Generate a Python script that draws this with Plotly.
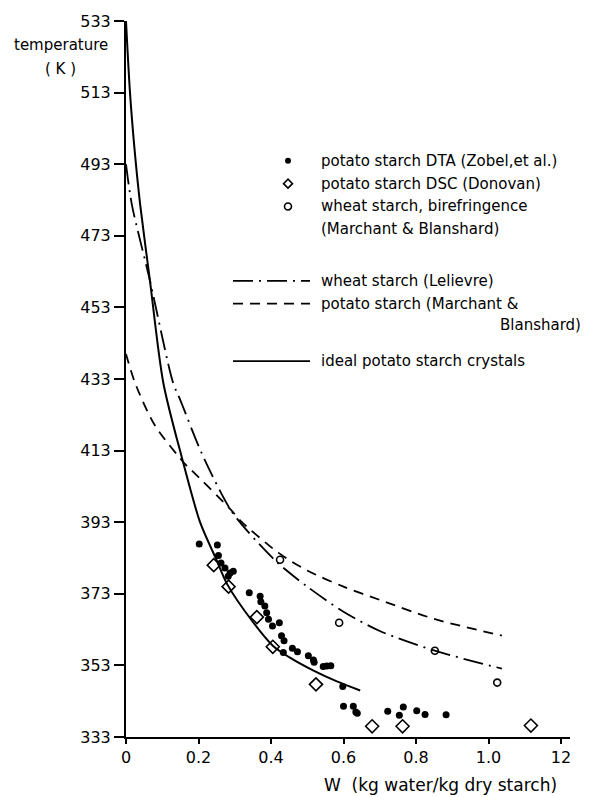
import plotly.graph_objects as go

# ---- measured data -------------------------------------------------------
# potato starch, DTA (Zobel et al.)
dta_w = [0.202, 0.252, 0.255, 0.262, 0.273, 0.282, 0.287, 0.296, 0.340, 0.370,
         0.372, 0.383, 0.388, 0.393, 0.404, 0.423, 0.429, 0.436, 0.434, 0.459,
         0.473, 0.503, 0.517, 0.519, 0.544, 0.554, 0.565, 0.598, 0.600, 0.627,
         0.634, 0.638, 0.722, 0.754, 0.765, 0.802, 0.825, 0.883]
dta_T = [386.9, 386.6, 383.7, 381.6, 380.2, 377.9, 378.8, 379.3, 373.3, 372.3,
         370.8, 369.6, 367.7, 365.9, 364.0, 364.9, 361.3, 359.9, 356.6, 357.8,
         356.8, 355.7, 354.5, 353.9, 352.7, 352.8, 352.9, 347.1, 341.6, 341.6,
         340.0, 339.6, 340.2, 339.1, 341.4, 340.3, 339.3, 339.2]

# potato starch, DSC (Donovan)
dsc_w = [0.242, 0.283, 0.361, 0.405, 0.524, 0.679, 0.763, 1.117]
dsc_T = [381.0, 375.0, 366.5, 358.2, 347.7, 336.0, 336.0, 336.2]

# wheat starch, birefringence (Marchant & Blanshard)
bir_w = [0.425, 0.588, 0.852, 1.024]
bir_T = [382.5, 364.9, 357.1, 348.2]

# ---- fitted curves --------------------------------------------------------
lel_w = [0.0, 0.016, 0.066, 0.13, 0.149, 0.21, 0.287, 0.337, 0.42, 0.5, 0.6, 0.7, 0.852, 1.037]
lel_T = [493.0, 481.8, 460.5, 431.9, 427.3, 412.0, 396.7, 390.3, 381.5, 375.0, 368.0, 362.6, 357.1, 352.1]

mb_w = [0.0, 0.025, 0.08, 0.167, 0.186, 0.287, 0.319, 0.42, 0.5, 0.6, 0.7, 0.85, 1.037]
mb_T = [440.0, 431.9, 420.0, 408.8, 407.0, 396.7, 393.1, 384.5, 379.5, 375.0, 371.3, 366.0, 361.3]

ideal_w = [0.0, 0.011, 0.025, 0.039, 0.066, 0.103, 0.154, 0.204, 0.25, 0.279,
           0.348, 0.405, 0.45, 0.516, 0.58, 0.646]
ideal_T = [533.0, 513.0, 495.6, 481.8, 460.5, 431.9, 411.1, 393.1, 382.4, 375.7,
           365.4, 358.5, 355.3, 351.6, 348.6, 346.0]

# ---- axis ticks -----------------------------------------------------------
y_ticks = [533, 513, 493, 473, 453, 433, 413, 393, 373, 353, 333]
x_ticks = [0, 0.2, 0.4, 0.6, 0.8, 1.0, 1.2]
x_tick_text = ["0", "0.2", "0.4", "0.6", "0.8", "1.0", "12"]

FONT = "DejaVu Sans"
INK = "#000000"

W, H = 602, 797
ML, MR, MT, MB = 126, 32, 15, 60
PW, PH = W - ML - MR, H - MT - MB


def px(x):
    return (x - ML) / PW


def py(y):
    return (H - MB - y) / PH


fig = go.Figure()

line_style = dict(color=INK, width=1.8, shape="spline", smoothing=0.8)
fig.add_trace(go.Scatter(x=lel_w, y=lel_T, mode="lines",
                         line=dict(line_style, dash="20px,6px,2px,6px"),
                         cliponaxis=False))
fig.add_trace(go.Scatter(x=mb_w, y=mb_T, mode="lines",
                         line=dict(line_style, dash="10px,7px"),
                         cliponaxis=False))
fig.add_trace(go.Scatter(x=ideal_w, y=ideal_T, mode="lines",
                         line=dict(line_style, width=2),
                         cliponaxis=False))

fig.add_trace(go.Scatter(x=dta_w, y=dta_T, mode="markers",
                         marker=dict(symbol="circle", size=7, color=INK,
                                     line=dict(width=0)),
                         cliponaxis=False))
fig.add_trace(go.Scatter(x=dsc_w, y=dsc_T, mode="markers",
                         marker=dict(symbol="diamond-open", size=10, color=INK,
                                     line=dict(width=1.6)),
                         cliponaxis=False))
fig.add_trace(go.Scatter(x=bir_w, y=bir_T, mode="markers",
                         marker=dict(symbol="circle-open", size=7, color=INK,
                                     line=dict(width=1.6)),
                         cliponaxis=False))

# ---- key ----------------------------------------------------------------
shapes = []
annotations = []
tfont = dict(family=FONT, size=15, color=INK)

mark_x = 288
text_x = 319
marker_rows = [
    (156, "dot", "potato starch DTA (Zobel,et al.)"),
    (179, "diamond", "potato starch DSC (Donovan)"),
    (202, "ring", "wheat starch, birefringence"),
]
for yy, kind, label in marker_rows:
    if kind == "dot":
        shapes.append(dict(type="circle", xref="paper", yref="paper",
                           xsizemode="pixel", ysizemode="pixel",
                           xanchor=px(mark_x), yanchor=py(yy),
                           x0=-3, x1=3, y0=-3, y1=3,
                           fillcolor=INK, line=dict(width=0)))
    elif kind == "diamond":
        shapes.append(dict(type="path", xref="paper", yref="paper",
                           xsizemode="pixel", ysizemode="pixel",
                           xanchor=px(mark_x), yanchor=py(yy),
                           path="M0,4.5 L4.5,0 L0,-4.5 L-4.5,0 Z",
                           line=dict(color=INK, width=1.6)))
    else:
        shapes.append(dict(type="circle", xref="paper", yref="paper",
                           xsizemode="pixel", ysizemode="pixel",
                           xanchor=px(mark_x), yanchor=py(yy),
                           x0=-3.5, x1=3.5, y0=-3.5, y1=3.5,
                           line=dict(color=INK, width=1.6)))
    annotations.append(dict(x=px(text_x), y=py(yy), xref="paper", yref="paper",
                            text=label, showarrow=False, xanchor="left",
                            yanchor="middle", font=tfont))
annotations.append(dict(x=px(text_x), y=py(225), xref="paper", yref="paper",
                        text="(Marchant &amp; Blanshard)", showarrow=False,
                        xanchor="left", yanchor="middle", font=tfont))

line_rows = [
    (277, "20px,6px,2px,6px", "wheat starch (Lelievre)"),
    (300, "10px,7px", "potato starch (Marchant &amp;"),
    (358, "solid", "ideal potato starch crystals"),
]
for yy, dash, label in line_rows:
    shapes.append(dict(type="line", xref="paper", yref="paper",
                       x0=px(233), x1=px(310), y0=py(yy), y1=py(yy),
                       line=dict(color=INK, width=1.8, dash=dash)))
    annotations.append(dict(x=px(text_x), y=py(yy), xref="paper", yref="paper",
                            text=label, showarrow=False, xanchor="left",
                            yanchor="middle", font=tfont))
annotations.append(dict(x=px(583), y=py(322), xref="paper", yref="paper",
                        text="Blanshard)", showarrow=False, xanchor="right",
                        yanchor="middle", font=tfont))

# ---- axis titles ----------------------------------------------------------
annotations.append(dict(x=px(61), y=py(39), xref="paper", yref="paper",
                        text="temperature", showarrow=False, xanchor="center",
                        yanchor="middle", font=dict(family=FONT, size=15, color=INK)))
annotations.append(dict(x=px(60), y=py(63), xref="paper", yref="paper",
                        text="( K )", showarrow=False, xanchor="center",
                        yanchor="middle", font=dict(family=FONT, size=15, color=INK)))
annotations.append(dict(x=px(322), y=py(785), xref="paper", yref="paper",
                        text="W  (kg water/kg dry starch)", showarrow=False,
                        xanchor="left", yanchor="middle",
                        font=dict(family=FONT, size=17, color=INK)))

fig.update_layout(
    width=W, height=H,
    margin=dict(l=ML, r=MR, t=MT, b=MB, pad=0),
    paper_bgcolor="white", plot_bgcolor="white",
    showlegend=False,
    shapes=shapes, annotations=annotations,
    font=dict(family=FONT, color=INK),
)
fig.update_xaxes(range=[0, PW / 362.5], tickvals=x_ticks, ticktext=x_tick_text,
                 showgrid=False, zeroline=False, showline=True, linewidth=2,
                 linecolor=INK, ticks="outside", ticklen=5, tickwidth=1.5,
                 tickcolor=INK, tickfont=dict(family=FONT, size=16, color=INK))
fig.update_yaxes(range=[333, 533], tickvals=y_ticks,
                 showgrid=False, zeroline=False, showline=True, linewidth=2,
                 linecolor=INK, ticks="outside", ticklen=10, tickwidth=1.5,
                 tickcolor=INK, tickfont=dict(family=FONT, size=16, color=INK))

fig.write_html("out.html")
